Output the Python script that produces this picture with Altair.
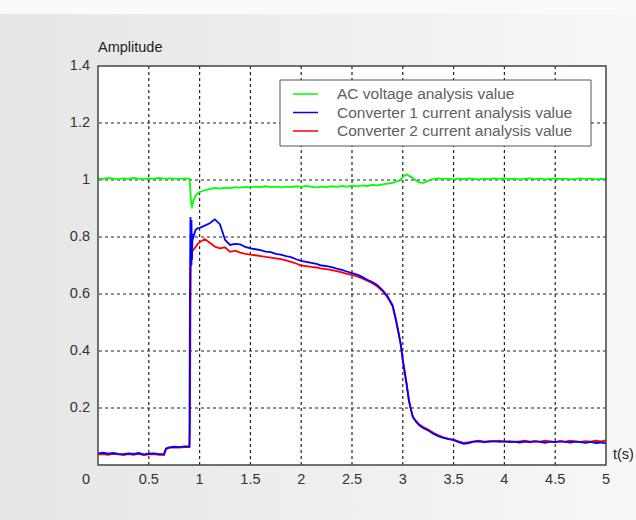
import altair as alt
import pandas as pd

# Sample times (s)
t = [
    0.00, 0.05, 0.10, 0.15, 0.20, 0.25, 0.30, 0.35, 0.40, 0.45, 0.50, 0.55, 0.60, 0.65,
    0.67, 0.70, 0.75, 0.80, 0.85,
    0.90, 0.905, 0.91, 0.915, 0.92, 0.925, 0.93, 0.94, 0.96, 0.98,
    1.00, 1.05, 1.10, 1.15, 1.20, 1.25, 1.30, 1.35, 1.40, 1.45, 1.50, 1.55, 1.60, 1.65,
    1.70, 1.75, 1.80, 1.85, 1.90, 1.95, 2.00, 2.05, 2.10, 2.15, 2.20, 2.25, 2.30, 2.35,
    2.40, 2.45, 2.50, 2.55, 2.60, 2.65, 2.70, 2.75, 2.80, 2.85,
    2.90, 2.93, 2.96, 2.98, 3.00, 3.02, 3.04, 3.06, 3.08, 3.10, 3.13, 3.16, 3.20,
    3.25, 3.30, 3.35, 3.40, 3.45, 3.50, 3.55, 3.60, 3.65, 3.70, 3.75, 3.80, 3.85, 3.90,
    3.95, 4.00, 4.05, 4.10, 4.15, 4.20, 4.25, 4.30, 4.35, 4.40, 4.45, 4.50, 4.55, 4.60,
    4.65, 4.70, 4.75, 4.80, 4.85, 4.90, 4.95, 5.00,
]

ac_voltage = [
    1.006, 1.004, 1.007, 1.005, 1.003, 1.006, 1.004, 1.007, 1.005, 1.003, 1.006, 1.004, 1.007, 1.005,
    1.004, 1.006, 1.005, 1.003, 1.006,
    1.005, 0.990, 0.955, 0.928, 0.912, 0.906, 0.912, 0.928, 0.945, 0.953,
    0.958, 0.964, 0.968, 0.972, 0.970, 0.973, 0.971, 0.975, 0.973, 0.976, 0.974, 0.977, 0.975, 0.978,
    0.975, 0.977, 0.974, 0.977, 0.975, 0.978, 0.976, 0.979, 0.976, 0.974, 0.977, 0.975, 0.978, 0.976,
    0.979, 0.977, 0.980, 0.978, 0.981, 0.979, 0.983, 0.981, 0.985, 0.987,
    0.990, 0.994, 0.997, 1.003, 1.010, 1.016, 1.019, 1.015, 1.011, 1.006, 0.998, 0.992, 0.990,
    0.997, 1.004, 1.006, 1.003, 1.005, 1.002, 1.005, 1.003, 1.006, 1.004, 1.002, 1.005, 1.003, 1.006,
    1.004, 1.006, 1.003, 1.005, 1.002, 1.004, 1.006, 1.003, 1.005, 1.002, 1.004, 1.006, 1.003, 1.005,
    1.002, 1.004, 1.006, 1.003, 1.005, 1.002, 1.004, 1.003,
]

converter1_current = [
    0.041, 0.043, 0.040, 0.042, 0.039, 0.038, 0.041, 0.039, 0.042, 0.037, 0.040, 0.041, 0.038, 0.039,
    0.058, 0.062, 0.064, 0.063, 0.065,
    0.065, 0.600, 0.870, 0.700, 0.860, 0.720, 0.810, 0.800, 0.825, 0.830,
    0.832, 0.840, 0.848, 0.862, 0.845, 0.790, 0.772, 0.776, 0.774, 0.765, 0.760, 0.757, 0.754, 0.749,
    0.747, 0.741, 0.738, 0.733, 0.729, 0.722, 0.716, 0.713, 0.709, 0.706, 0.700, 0.698, 0.694, 0.689,
    0.685, 0.679, 0.673, 0.668, 0.660, 0.650, 0.642, 0.631, 0.614, 0.592,
    0.560, 0.515, 0.462, 0.425, 0.370, 0.325, 0.280, 0.228, 0.196, 0.168, 0.152, 0.140, 0.130,
    0.121, 0.110, 0.101, 0.095, 0.091, 0.087, 0.080, 0.074, 0.077, 0.082, 0.083, 0.080, 0.082, 0.084,
    0.081, 0.083, 0.080, 0.082, 0.079, 0.082, 0.080, 0.083, 0.081, 0.078, 0.082, 0.080, 0.083, 0.081,
    0.079, 0.082, 0.080, 0.078, 0.081, 0.077, 0.079, 0.076,
]

converter2_current = [
    0.037, 0.038, 0.036, 0.039, 0.037, 0.035, 0.038, 0.036, 0.039, 0.035, 0.037, 0.038, 0.036, 0.035,
    0.056, 0.060, 0.062, 0.061, 0.063,
    0.063, 0.134, 0.550, 0.740, 0.700, 0.745, 0.752, 0.755, 0.765, 0.775,
    0.782, 0.793, 0.780, 0.766, 0.760, 0.764, 0.748, 0.752, 0.745, 0.741, 0.738, 0.736, 0.733, 0.730,
    0.728, 0.725, 0.722, 0.718, 0.713, 0.707, 0.700, 0.698, 0.695, 0.693, 0.689, 0.687, 0.684, 0.680,
    0.676, 0.671, 0.667, 0.662, 0.655, 0.647, 0.638, 0.626, 0.610, 0.588,
    0.556, 0.510, 0.458, 0.420, 0.365, 0.320, 0.275, 0.225, 0.193, 0.167, 0.155, 0.143, 0.133,
    0.124, 0.113, 0.104, 0.097, 0.092, 0.089, 0.083, 0.078, 0.080, 0.083, 0.085, 0.082, 0.084, 0.083,
    0.085, 0.082, 0.084, 0.081, 0.083, 0.085, 0.082, 0.084, 0.082, 0.085, 0.083, 0.081, 0.084, 0.082,
    0.085, 0.083, 0.081, 0.084, 0.082, 0.085, 0.083, 0.086,
]

series_names = [
    "AC voltage analysis value",
    "Converter 1 current analysis value",
    "Converter 2 current analysis value",
]
series_colors = ["#00ff00", "#0000ff", "#ff0000"]

x_labels = [0, 0.5, 1, 1.5, 2, 2.5, 3, 3.5, 4, 4.5, 5]
y_labels = [0.2, 0.4, 0.6, 0.8, 1, 1.2, 1.4]
x_grid = [0.5, 1, 1.5, 2, 2.5, 3, 3.5, 4, 4.5]
y_grid = [0.2, 0.4, 0.6, 0.8, 1, 1.2]

W, H = 508, 399
PAD_L, PAD_T = 98, 66
FONT = "Liberation Sans"
TICK_FONT_SIZE = 14.5
LEGEND_FONT_SIZE = 15.5
LEGEND_ROWS_Y = [28, 46.5, 65]

frames = []
for name, vals in zip(series_names, [ac_voltage, converter1_current, converter2_current]):
    frames.append(pd.DataFrame({"t": t, "v": vals, "series": name}))
long_df = pd.concat(frames, ignore_index=True)

x_scale = alt.Scale(domain=[0, 5], nice=False, zero=False)
y_scale = alt.Scale(domain=[0, 1.4], nice=False)

one_row = pd.DataFrame({"k": [0]})

# page background with a soft left-to-right shade
background = alt.Chart(one_row).mark_rect(
    color=alt.Gradient(
        gradient="linear",
        stops=[alt.GradientStop(color="#e6e6e6", offset=0),
               alt.GradientStop(color="#f7f7f7", offset=1)],
        x1=0, x2=1, y1=0, y2=0,
    )
).encode(
    x=alt.value(-PAD_L), x2=alt.value(636 - PAD_L),
    y=alt.value(14 - PAD_T), y2=alt.value(520 - PAD_T),
)

plot_bg = alt.Chart(one_row).mark_rect(color="white").encode(
    x=alt.value(0), x2=alt.value(W), y=alt.value(0), y2=alt.value(H)
)

grid_style = dict(color="#222222", strokeDash=[3, 3], strokeWidth=1.2)
v_grid = alt.Chart(pd.DataFrame({"g": x_grid})).mark_rule(**grid_style).encode(
    x=alt.X("g:Q", scale=x_scale, axis=None)
)
h_grid = alt.Chart(pd.DataFrame({"g": y_grid})).mark_rule(**grid_style).encode(
    y=alt.Y("g:Q", scale=y_scale, axis=None)
)

# tick labels
label_style = dict(font=FONT, fontSize=TICK_FONT_SIZE, color="#333333")
x_tick_df = pd.DataFrame({"v": x_labels})
x_tick_text = alt.Chart(x_tick_df).transform_filter("datum.v > 0").mark_text(
    baseline="middle", align="center", **label_style
).encode(
    x=alt.X("v:Q", scale=x_scale, axis=None), y=alt.value(H + 15),
    text=alt.Text("v:Q", format="~g"),
)
origin_text = alt.Chart(x_tick_df).transform_filter("datum.v == 0").mark_text(
    baseline="middle", align="center", dx=-12, **label_style
).encode(
    x=alt.X("v:Q", scale=x_scale, axis=None), y=alt.value(H + 15),
    text=alt.Text("v:Q", format="~g"),
)
y_tick_text = alt.Chart(pd.DataFrame({"v": y_labels})).mark_text(
    baseline="middle", align="right", **label_style
).encode(
    x=alt.value(-8), y=alt.Y("v:Q", scale=y_scale, axis=None),
    text=alt.Text("v:Q", format="~g"),
)

# axis titles
title_style = dict(font=FONT, fontSize=14.5, color="#222222", baseline="middle", align="left")
y_title = alt.Chart(pd.DataFrame({"label": ["Amplitude"]})).mark_text(**title_style).encode(
    x=alt.value(0), y=alt.value(-18), text="label:N"
)
x_title = alt.Chart(pd.DataFrame({"label": ["t(s)"]})).mark_text(**title_style).encode(
    x=alt.value(W + 7), y=alt.value(H - 10), text="label:N"
)

# legend: box, line swatches and labels
legend_box = alt.Chart(one_row).mark_rect(
    fill="white", stroke="#555555", strokeWidth=1
).encode(
    x=alt.value(182), x2=alt.value(493), y=alt.value(14), y2=alt.value(80)
)
legend_layers = []
for name, colour, row_y in zip(series_names, series_colors, LEGEND_ROWS_Y):
    row_df = pd.DataFrame({"label": [name]})
    legend_layers.append(
        alt.Chart(row_df).mark_rule(color=colour, strokeWidth=1.5).encode(
            x=alt.value(195), x2=alt.value(220), y=alt.value(row_y)
        )
    )
    legend_layers.append(
        alt.Chart(row_df).mark_text(
            font=FONT, fontSize=LEGEND_FONT_SIZE, color="#606060",
            align="left", baseline="middle",
        ).encode(x=alt.value(239), y=alt.value(row_y), text="label:N")
    )


def series_line(name):
    colour = series_colors[series_names.index(name)]
    return alt.Chart(long_df).transform_filter(
        alt.datum.series == name
    ).mark_line(strokeWidth=1.8, color=colour).encode(
        x=alt.X("t:Q", scale=x_scale, axis=None),
        y=alt.Y("v:Q", scale=y_scale, axis=None),
    )


frame = alt.Chart(one_row).mark_rect(
    fill="transparent", stroke="#444444", strokeWidth=1.5
).encode(
    x=alt.value(0), x2=alt.value(W), y=alt.value(0), y2=alt.value(H)
)

chart = alt.layer(
    background, plot_bg, v_grid, h_grid, legend_box,
    series_line(series_names[0]),
    series_line(series_names[2]),
    series_line(series_names[1]),
    frame,
    x_tick_text, origin_text, y_tick_text, y_title, x_title,
    *legend_layers,
).properties(
    width=W, height=H,
    autosize=alt.AutoSizeParams(type="none"),
    padding={"left": PAD_L, "top": PAD_T, "right": 636 - PAD_L - W, "bottom": 520 - PAD_T - H},
    background="#fafafa",
).configure_view(
    stroke=None
)

chart.save("out.html", embed_options={"renderer": "svg", "actions": False})
